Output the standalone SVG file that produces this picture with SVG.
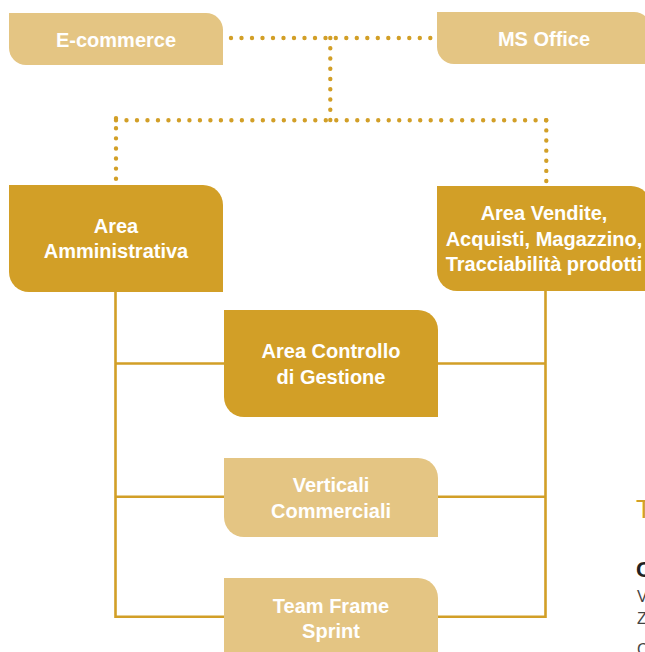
<svg xmlns="http://www.w3.org/2000/svg" width="645" height="652" viewBox="0 0 645 652">
<style>
.dark{fill:#D29F27}
.light{fill:#E4C583}
.lbl{font-family:"Liberation Sans",Arial,sans-serif;font-weight:bold;font-size:20px;fill:#fff;text-anchor:middle}
.dot{fill:none;stroke:#D29F27;stroke-width:4.4;stroke-linecap:round;stroke-dasharray:0 10.5}
.solid{fill:none;stroke:#D29F27;stroke-width:2.6}
.side{font-family:"Liberation Sans",Arial,sans-serif}
</style>
<rect width="645" height="652" fill="#fff"/>
<g id="connectors">
<path class="dot" d="M231 38 H326"/>
<path class="dot" d="M430.3 38 H335"/>
<path class="dot" d="M330.3 38 V121" style="stroke-dasharray:0 10.25"/>
<path class="dot" d="M116 120.3 H547" style="stroke-dasharray:0 10.49"/>
<path class="dot" d="M116 118.2 V179" style="stroke-dasharray:0 10.08"/>
<path class="dot" d="M546.3 120.3 V181.5" style="stroke-dasharray:0 10.12"/>
<path class="solid" d="M115.5 292 V616.7 H224 M115.5 363.5 H224 M115.5 496.7 H224"/>
<path class="solid" d="M545.5 291 V616.7 H438 M545.5 363.5 H438 M545.5 496.7 H438"/>
</g>
<g id="n-ecommerce">
<path class="light" d="M9 13 H206 A17 17 0 0 1 223 30 V65 H26 A17 17 0 0 1 9 48 Z"/>
<text class="lbl" x="116" y="47">E-commerce</text>
</g>
<g id="n-msoffice">
<path class="light" d="M437 12 H634 A17 17 0 0 1 651 29 V64 H454 A17 17 0 0 1 437 47 Z"/>
<text class="lbl" x="544" y="46">MS Office</text>
</g>
<g id="n-amministrativa">
<path class="dark" d="M9 185 H203 A20 20 0 0 1 223 205 V292 H29 A20 20 0 0 1 9 272 Z"/>
<text class="lbl" x="116" y="233">Area</text>
<text class="lbl" x="116" y="258">Amministrativa</text>
</g>
<g id="n-vendite">
<path class="dark" d="M437 186 H631 A20 20 0 0 1 651 206 V291 H457 A20 20 0 0 1 437 271 Z"/>
<text class="lbl" x="544" y="220">Area Vendite,</text>
<text class="lbl" x="544" y="246">Acquisti, Magazzino,</text>
<text class="lbl" x="544" y="271">Tracciabilità prodotti</text>
</g>
<g id="n-controllo">
<path class="dark" d="M224 310 H418 A20 20 0 0 1 438 330 V417 H244 A20 20 0 0 1 224 397 Z"/>
<text class="lbl" x="331" y="358">Area Controllo</text>
<text class="lbl" x="331" y="384">di Gestione</text>
</g>
<g id="n-verticali">
<path class="light" d="M224 458 H418 A20 20 0 0 1 438 478 V537 H244 A20 20 0 0 1 224 517 Z"/>
<text class="lbl" x="331" y="492">Verticali</text>
<text class="lbl" x="331" y="518">Commerciali</text>
</g>
<g id="n-teamframe">
<path class="light" d="M224 578 H418 A20 20 0 0 1 438 598 V670 H244 A20 20 0 0 1 224 650 Z"/>
<text class="lbl" x="331" y="613">Team Frame</text>
<text class="lbl" x="331" y="638">Sprint</text>
</g>
<g id="side-text">
<text class="side" x="636" y="518" font-size="26" fill="#D29F27">T</text>
<text class="side" x="636" y="577" font-size="22" font-weight="bold" fill="#222">C</text>
<text class="side" x="637" y="602" font-size="16" fill="#444">V</text>
<text class="side" x="637" y="624" font-size="16" fill="#444">Z</text>
<text class="side" x="637" y="655" font-size="16" fill="#444">C</text>
</g>
</svg>
